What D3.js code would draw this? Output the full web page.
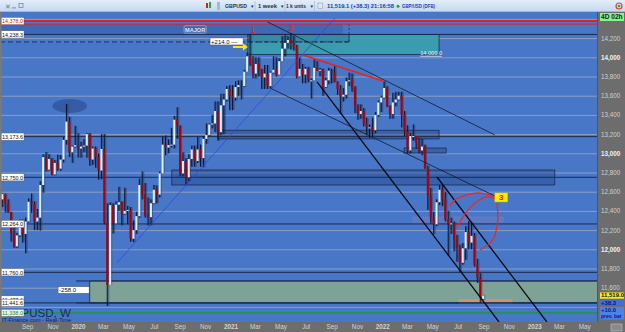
<!DOCTYPE html>
<html>
<head>
<meta charset="utf-8">
<script src="https://cdn.jsdelivr.net/npm/d3@7"></script>
<style>
  body { margin: 0; background: #fff; overflow: hidden; }
  svg { display: block; font-family: "Liberation Sans", Arial, sans-serif; }
</style>
</head>
<body>
<svg id="chart" width="625" height="332"></svg>
<script>
// weekly GBPUSD candles [open, high, low, close], in chart units (1.2345 -> 12,345)
const firstWeek = "2019-07-08"
const ohlc2019 = [
  [12520,12580,12440,12575],[12575,12580,12382,12475],[12475,12520,12380,12387],[12387,12390,12080,12160],
  [12160,12250,12015,12030],[12030,12170,12015,12145],[12145,12310,12130,12280],[12280,12310,12070,12160],
  [12160,12330,11959,12290],[12290,12530,12280,12495],[12495,12580,12380,12470],[12470,12500,12200,12290],
  [12290,12420,12200,12330],[12330,12710,12195,12670],[12670,12990,12590,12960],[12960,13013,12810,12830],
  [12830,12990,12820,12940],[12940,12950,12770,12780],[12780,12930,12770,12900],[12900,12985,12820,12840],
  [12840,12980,12820,12935],[12935,13170,12905,13140],[13140,13514,13090,13330],[13330,13380,12960,13010],
  [13010,13080,12900,13070],[13070,13285,13060,13085]
]
const ohlc2020 = [
  [13085,13210,12955,13050],[13050,13120,12955,13070],[13070,13150,13010,13080],[13080,13210,12955,13200],
  [13200,13210,12870,12935],[12935,13070,12880,13050],[13050,13070,12850,12960],[12960,13000,12725,12820],
  [12820,13200,12730,13045],[13045,13200,12260,12280],[12280,12480,11409,11630],[11630,12490,11630,12460],
  [12460,12480,12165,12270],[12270,12500,12270,12465],[12465,12650,12400,12490],[12490,12500,12250,12370],
  [12370,12640,12360,12400],[12400,12450,12260,12410],[12410,12440,12080,12110],[12110,12300,12075,12200],
  [12200,12390,12160,12345],[12345,12735,12330,12670],[12670,12810,12520,12570],[12570,12690,12330,12350],
  [12350,12540,12250,12335],[12335,12520,12250,12480],[12480,12670,12470,12620],[12620,12665,12480,12570],
  [12570,12810,12540,12790],[12790,13170,12790,13090],[13090,13185,12980,13060],[13060,13145,13000,13085],
  [13085,13265,13060,13090],[13090,13390,13050,13350],[13350,13480,13150,13280],[13280,13290,12760,12790],
  [12790,13010,12760,12920],[12920,12950,12675,12750],[12750,12990,12710,12940],[12940,13080,12860,13040],
  [13040,13080,12860,12920],[12920,13170,12900,13040],[13040,13090,12860,12950],[12950,13180,12855,13150],
  [13150,13310,13100,13190],[13190,13310,13170,13300],[13300,13400,13260,13310],[13310,13540,13220,13440],
  [13440,13540,13130,13220],[13220,13620,13190,13500],[13500,13620,13200,13560],[13560,13700,13540,13670]
]
const ohlc2021 = [
  [13670,13710,13450,13600],[13600,13710,13450,13580],[13580,13750,13550,13690],[13690,13760,13600,13710],
  [13710,13760,13560,13700],[13700,13870,13690,13850],[13850,14050,13850,14010],[14010,14241,13910,13930],
  [13930,14010,13780,13830],[13830,14000,13780,13930],[13930,14000,13800,13870],[13870,13880,13670,13790],
  [13790,13920,13670,13830],[13830,13920,13670,13700],[13700,13850,13680,13840],[13840,14010,13830,13870],
  [13870,14000,13800,13820],[13820,13990,13820,13960],[13960,14220,13960,14090],[14090,14230,14010,14150],
  [14150,14220,14090,14180],[14180,14250,14080,14150],[14150,14220,14070,14110],[14110,14130,13780,13800],
  [13800,14000,13790,13880],[13880,13930,13730,13820],[13820,13900,13730,13880],[13880,13900,13740,13760],
  [13760,13780,13570,13760],[13760,13980,13760,13890],[13890,13960,13860,13860],[13860,13890,13800,13870],
  [13870,13880,13600,13690],[13690,13790,13680,13760],[13760,13890,13720,13860],[13860,13880,13730,13840],
  [13840,13910,13740,13740],[13740,13750,13610,13670],[13670,13710,13410,13590],[13590,13680,13540,13610],
  [13610,13790,13570,13750],[13750,13840,13700,13760],[13760,13830,13640,13680],[13680,13700,13420,13500],
  [13500,13510,13350,13410],[13410,13510,13360,13440],[13440,13470,13280,13310],[13310,13370,13190,13270],
  [13270,13300,13160,13270],[13270,13370,13170,13240],[13240,13430,13210,13400],[13400,13550,13380,13530]
]
const ohlc2022 = [
  [13530,13600,13430,13580],[13580,13749,13570,13680],[13680,13700,13480,13490],[13490,13500,13360,13410],
  [13410,13630,13360,13530],[13530,13640,13490,13560],[13560,13640,13550,13600],[13600,13640,13270,13400],
  [13400,13440,13180,13230],[13230,13290,13000,13030],[13030,13210,13000,13180],[13180,13300,13130,13180],
  [13180,13180,13050,13110],[13110,13160,13000,13030],[13030,13150,12980,13070],[13070,13090,12840,12840],
  [12840,12870,12410,12560],[12560,12640,12270,12330],[12330,12390,12155,12260],[12260,12520,12240,12490],
  [12490,12670,12460,12620],[12620,12670,12450,12520],[12520,12600,12290,12310],[12310,12400,11934,12260],
  [12260,12330,12160,12270],[12270,12290,11980,12100],[12100,12150,11870,12020],[12020,12050,11760,11860],
  [11860,12065,11840,12010],[12010,12240,11890,12180],[12180,12293,12000,12070],[12070,12280,12000,12140],
  [12140,12170,11820,11840],[11840,11900,11650,11700],[11700,11750,11444,11500],[11481,11525,11470,11519]
]

// price axis and gridlines
const priceTicks = d3.range(11600, 14201, 200)
const gridLevels = d3.range(11400, 14401, 200)
// month labels shown under the chart
const monthTicks = d3.timeMonth.every(2).range(new Date(2019, 8, 1), new Date(2023, 5, 2))

// horizontal levels [price, label, kind]
const levels = [
  [14378.0, "14,378.0", "red"],
  [14345.0, null, "red2"],
  [14238.3, "14,238.3", "navy"],
  [13173.6, "13,173.6", "navy"],
  [12750.0, "12,750.0", "navy"],
  [12264.0, "12,264.0", "navy"],
  [11760.0, "11,760.0", "navy"],
  [11477.6, "11,477.6", "none"],
  [11441.6, "11,441.6", "navy"],
  [11338.0, "11,338.0", "green"]
]

// zones [from, to, top price, bottom price, kind]
const zones = [
  ["2019-07-01", "2021-10-03", 14345, 14238.3, "major"],
  ["2021-02-17", "2022-05-22", 14238.3, 14030, "teal"],
  ["2021-02-17", "2021-10-18", 14238.3, 14160, "dashbox"],
  ["2020-12-07", "2022-05-22", 13240, 13150, "dark"],
  ["2022-02-27", "2022-06-08", 13055, 13003, "dark"],
  ["2020-08-18", "2023-02-24", 12826, 12670, "dark"],
  ["2022-03-20", "2022-10-23", 12337, 12285, "pink"],
  ["2020-02-03", "2023-12-01", 11670, 11441.6, "sage"],
  ["2022-07-09", "2022-11-13", 11477, 11441.6, "orange"]
]

// trendlines [[date, price], [date, price], kind]
const trendlines = [
  [["2021-04-05", 14368], ["2022-10-03", 13191], "thin"],
  [["2021-04-11", 13680], ["2022-10-08", 12545], "thin"],
  [["2021-08-02", 13743], ["2022-10-13", 11243], "thick"],
  [["2022-05-17", 12753], ["2023-02-05", 11243], "thick"],
  [["2020-04-08", 11857], ["2021-09-14", 14409], "blue"],
  [["2021-06-29", 14024], ["2022-01-07", 13753], "red"]
]

// red arcs pointing to label 3
const arcs = [
  [["2022-06-17",12451],["2022-06-29",12514],["2022-07-28",12566],["2022-08-28",12586],["2022-10-03",12545]],
  [["2022-07-04",12222],["2022-07-18",12336],["2022-08-11",12461],["2022-09-14",12545],["2022-10-03",12524]],
  [["2022-10-08",12482],["2022-10-10",12305],["2022-09-28",12097],["2022-08-28",11993]]
]

const W = 625, H = 332
const plot = {left: 0, right: 597, top: 12, bottom: 322}
const parse = d3.timeParse("%Y-%m-%d")

const svg = d3.select("#chart")

const x = d3.scaleTime()
  .domain([new Date(2020, 0, 1), new Date(2023, 0, 1)])
  .range([76, 532.3])
const y = d3.scaleLinear()
  .domain([11600, 14000])
  .range([287.7, 57.3])

svg.append("defs").append("clipPath").attr("id", "clip")
  .append("rect")
  .attr("x", plot.left).attr("y", plot.top)
  .attr("width", plot.right - plot.left).attr("height", plot.bottom - plot.top)

// background
svg.append("rect").attr("width", W).attr("height", H).attr("fill", "#6d6d6d")
svg.append("rect")
  .attr("x", plot.left).attr("y", plot.top)
  .attr("width", plot.right - plot.left).attr("height", plot.bottom - plot.top)
  .attr("fill", "#4877c8")

const g = svg.append("g").attr("clip-path", "url(#clip)")

// gridlines
g.selectAll("line.grid")
  .data(gridLevels)
  .enter().append("line")
  .attr("class", "grid")
  .attr("x1", plot.left).attr("x2", plot.right)
  .attr("y1", d => y(d) + 0.5).attr("y2", d => y(d) + 0.5)
  .attr("stroke", "#9eaabd").attr("stroke-width", 0.8)

// zones
const zoneStyle = {
  major:   {fill: "#1c3a78", op: 0.22, stroke: "none", dash: null},
  teal:    {fill: "#3aa0ad", op: 0.9, stroke: "#1a2a50", dash: null},
  dashbox: {fill: "#1c3a78", op: 0.18, stroke: "#1a2a50", dash: "3,2"},
  dark:    {fill: "#1d3a75", op: 0.35, stroke: "#1a2a50", dash: null},
  pink:    {fill: "#ff9a9a", op: 0.1, stroke: "#d86a70", dash: "1,1"},
  sage:    {fill: "#7ea396", op: 1, stroke: "#1a2a50", dash: null},
  orange:  {fill: "#c89482", op: 1, stroke: "#d8a020", dash: null}
}
zones.forEach(([from, to, top, bot, kind]) => {
  const s = zoneStyle[kind]
  g.append("rect")
    .attr("x", x(parse(from))).attr("y", y(top))
    .attr("width", x(parse(to)) - x(parse(from)))
    .attr("height", y(bot) - y(top))
    .attr("fill", s.fill).attr("fill-opacity", s.op)
    .attr("stroke", s.stroke).attr("stroke-width", 0.8)
    .attr("stroke-dasharray", s.dash)
})
// dashed line of the major zone reaching left edge
g.append("line")
  .attr("x1", plot.left).attr("x2", x(parse("2021-10-18")))
  .attr("y1", y(14160)).attr("y2", y(14160))
  .attr("stroke", "#1a2a50").attr("stroke-width", 0.9).attr("stroke-dasharray", "5,3")
g.append("line")
  .attr("x1", x(parse("2021-10-18"))).attr("x2", x(parse("2021-10-18")))
  .attr("y1", y(14345)).attr("y2", y(14160))
  .attr("stroke", "#1a2a50").attr("stroke-width", 0.8).attr("stroke-dasharray", "2,2")
// sage zone lines start a bit before fill
;[11670, 11441.6].forEach(p => {
  g.append("line")
    .attr("x1", x(parse("2020-01-01"))).attr("x2", plot.right)
    .attr("y1", y(p)).attr("y2", y(p))
    .attr("stroke", "#1a2a50").attr("stroke-width", 1)
})

// horizontal levels
const levelStroke = {red: ["#e0202a", 2], red2: ["#e0202a", 1], navy: ["#1b2a4e", 1], green: ["#1a9a2a", 1.2], none: [null, 0]}
levels.forEach(([p, , kind]) => {
  if (!levelStroke[kind][0]) return
  g.append("line")
    .attr("x1", plot.left).attr("x2", plot.right)
    .attr("y1", y(p)).attr("y2", y(p))
    .attr("stroke", levelStroke[kind][0]).attr("stroke-width", levelStroke[kind][1])
})

// ellipse on the 2019 top
g.append("ellipse")
  .attr("cx", x(parse("2019-12-17"))).attr("cy", y(13492))
  .attr("rx", (x(parse("2020-01-28")) - x(parse("2019-11-06"))) / 2)
  .attr("ry", (y(13419) - y(13565)) / 2)
  .attr("fill", "#2a4d90").attr("fill-opacity", 0.65)

// candles
const candles = [].concat(ohlc2019, ohlc2020, ohlc2021, ohlc2022).map((d, i) => ({
  date: d3.timeDay.offset(parse(firstWeek), 7 * i), o: d[0], h: d[1], l: d[2], c: d[3]
}))
const step = x(d3.timeDay.offset(parse(firstWeek), 7)) - x(parse(firstWeek))
const bw = step * 0.7

const cg = g.append("g")
cg.selectAll("rect.shadow")
  .data(candles).enter().append("rect")
  .attr("class", "shadow")
  .attr("x", d => x(d.date) - bw / 2 + 0.8)
  .attr("y", d => y(d.h))
  .attr("width", bw + 0.3)
  .attr("height", d => Math.max(1, y(d.l) - y(d.h)))
  .attr("fill", "#1c3570").attr("fill-opacity", 0.45)
cg.selectAll("line.wick")
  .data(candles).enter().append("line")
  .attr("class", "wick")
  .attr("x1", d => x(d.date)).attr("x2", d => x(d.date))
  .attr("y1", d => y(d.h)).attr("y2", d => y(d.l))
  .attr("stroke", "#0d0d14").attr("stroke-width", 0.9)
cg.selectAll("rect.body")
  .data(candles).enter().append("rect")
  .attr("class", "body")
  .attr("x", d => x(d.date) - bw / 2)
  .attr("y", d => y(Math.max(d.o, d.c)))
  .attr("width", bw)
  .attr("height", d => Math.max(1, Math.abs(y(d.o) - y(d.c))))
  .attr("fill", d => d.c >= d.o ? "#dcf0f4" : "#b00000")

// trendlines
const lineStyle = {thin: ["#15192a", 0.8], thick: ["#0a0a10", 1.3], blue: ["#3246e6", 0.8], red: ["#ee2020", 1.6]}
trendlines.forEach(([a, b, kind]) => {
  g.append("line")
    .attr("x1", x(parse(a[0]))).attr("y1", y(a[1]))
    .attr("x2", x(parse(b[0]))).attr("y2", y(b[1]))
    .attr("stroke", lineStyle[kind][0]).attr("stroke-width", lineStyle[kind][1])
})

// arcs and label 3
const arcLine = d3.line()
  .x(d => x(parse(d[0]))).y(d => y(d[1]))
  .curve(d3.curveCatmullRom)
arcs.forEach(a => {
  g.append("path").attr("d", arcLine(a))
    .attr("fill", "none").attr("stroke", "#ee2626").attr("stroke-width", 1.3)
})
const box3 = {x0: x(parse("2022-10-03")), x1: x(parse("2022-11-03")), y0: y(12587), y1: y(12493)}
g.append("rect")
  .attr("x", box3.x0).attr("y", box3.y0)
  .attr("width", box3.x1 - box3.x0).attr("height", box3.y1 - box3.y0)
  .attr("fill", "#ffee00").attr("stroke", "#c8b400").attr("stroke-width", 0.5)
g.append("text")
  .attr("x", (box3.x0 + box3.x1) / 2).attr("y", box3.y1 - 1.5)
  .attr("text-anchor", "middle").attr("font-size", 8).attr("font-weight", "bold")
  .attr("fill", "#e01010").text("3")

// point labels
;[["1", "2021-03-01", 14284], ["2", "2021-05-31", 14305]].forEach(([t, d, p]) => {
  g.append("text").attr("x", x(parse(d))).attr("y", y(p) + 3)
    .attr("text-anchor", "middle").attr("font-size", 8.5)
    .attr("fill", "#e02020").text(t)
})

// MAJOR tag
const mx = x(parse("2020-10-13")), my = y(14290)
g.append("rect").attr("x", mx - 11).attr("y", my - 3.7).attr("width", 22).attr("height", 7.4)
  .attr("fill", "#3c64ad").attr("stroke", "#9cb8e6").attr("stroke-width", 0.7).attr("rx", 1)
g.append("text").attr("x", mx).attr("y", my + 2.2).attr("text-anchor", "middle")
  .attr("font-size", 5.6).attr("font-weight", "bold").attr("fill", "#dfe7f3").text("MAJOR")

// +214.0 box and yellow arrow
const px = x(parse("2020-11-18")), py = y(14165)
g.append("rect").attr("x", px).attr("y", py - 3.5).attr("width", 33).attr("height", 7)
  .attr("fill", "#fff").attr("stroke", "#444").attr("stroke-width", 0.4)
g.append("text").attr("x", px + 1).attr("y", py + 2.2).attr("font-size", 6).attr("fill", "#111").text("+214.0  —")
const ax0 = x(parse("2021-01-12")), ax1 = x(parse("2021-02-17")), ay = y(14107)
g.append("path")
  .attr("d", `M${ax0},${ay - 1} L${ax1 - 5},${ay - 1} L${ax1 - 5},${ay - 3.5} L${ax1},${ay} L${ax1 - 5},${ay + 3.5} L${ax1 - 5},${ay + 1} L${ax0},${ay + 1} Z`)
  .attr("fill", "#f4ea1a")

// 14,000.0 label in teal zone
g.append("text").attr("x", x(parse("2022-05-03"))).attr("y", y(14034) + 1)
  .attr("text-anchor", "middle").attr("font-size", 5.6).attr("fill", "#e8f0f8")
  .attr("text-decoration", "underline").text("14,000.0")

// -258.0 box
const nx = x(parse("2019-11-19")), ny = y(11576)
g.append("rect").attr("x", nx).attr("y", ny - 3.3).attr("width", 31).attr("height", 6.6)
  .attr("fill", "#fff").attr("stroke", "#444").attr("stroke-width", 0.4)
g.append("text").attr("x", nx + 1).attr("y", ny + 2.2).attr("font-size", 6).attr("fill", "#111").text("-258.0")

// footer text
g.append("text").attr("x", 5).attr("y", 316.5).attr("font-size", 11.5)
  .attr("fill", "#1b2b58").text("GBPUSD, W")
g.append("text").attr("x", 2).attr("y", 321.5).attr("font-size", 5.6)
  .attr("fill", "#0f1f50").text("IT-Finance.com - Real-Time")

// left level labels
const labelFill = {red: "#d01818", navy: "#111", green: "#188a18", none: "#111"}
levels.filter(d => d[1]).forEach(([p, t, kind]) => {
  const ly = y(p)
  svg.append("rect").attr("x", 1).attr("y", ly - 3.6).attr("width", 23).attr("height", 7.2)
    .attr("fill", kind === "green" ? "#eaf6ea" : "#fff").attr("stroke", "#555").attr("stroke-width", 0.4)
  svg.append("text").attr("x", 2).attr("y", ly + 2.3).attr("font-size", 6.2)
    .attr("fill", labelFill[kind]).attr("textLength", 21).attr("lengthAdjust", "spacingAndGlyphs").text(t)
})
svg.append("rect").attr("x", 0).attr("y", plot.top).attr("width", 1.5).attr("height", plot.bottom - plot.top)
  .attr("fill", "#7a7a7a")

// right axis
const yAxis = svg.append("g")
  .attr("transform", `translate(${plot.right + 3},0)`)
  .call(d3.axisRight(y).tickValues(priceTicks).tickSize(0).tickPadding(1).tickFormat(d3.format(",")))
yAxis.select(".domain").remove()
yAxis.selectAll("text")
  .attr("font-size", 6.3).attr("font-family", "Liberation Sans, Arial, sans-serif")
  .attr("fill", d => d % 1000 === 0 ? "#f2f2f2" : "#cfcfcf")
  .attr("font-weight", d => d % 1000 === 0 ? "bold" : "normal")
svg.append("line").attr("x1", plot.right + 0.5).attr("x2", plot.right + 0.5)
  .attr("y1", plot.top).attr("y2", plot.bottom).attr("stroke", "#555").attr("stroke-width", 1)

// bottom axis
const xAxis = svg.append("g")
  .attr("transform", `translate(2,${plot.bottom + 1})`)
  .call(d3.axisBottom(x)
    .tickValues(monthTicks)
    .tickSize(0).tickPadding(2)
    .tickFormat(d => d.getMonth() === 0 ? d3.timeFormat("%Y")(d) : d3.timeFormat("%b")(d)))
xAxis.select(".domain").remove()
xAxis.selectAll("text")
  .attr("font-size", 6.3).attr("font-family", "Liberation Sans, Arial, sans-serif")
  .attr("fill", "#d2d2d2")
  .attr("font-weight", d => d.getMonth() === 0 ? "bold" : "normal")

// right side tags
const lastC = candles[candles.length - 1]
const tag = (yy, h, fill, lines) => {
  svg.append("rect").attr("x", 600).attr("y", yy).attr("width", 24).attr("height", h).attr("fill", fill)
  lines.forEach(([t, dy, fs, col]) => svg.append("text").attr("x", 601).attr("y", yy + dy)
    .attr("font-size", fs).attr("font-weight", "bold").attr("fill", col).text(t))
}
tag(y(lastC.c) - 3, 6.2, "#ffe81a", [[d3.format(",.1f")(lastC.c), 5, 6, "#111"]])
tag(y(lastC.c) + 4, 6.4, "#3f6fd8", [["+38.3", 5.3, 6, "#0c1a78"]])
tag(y(lastC.c) + 11.5, 12.5, "#4f82e6", [["+10.0", 5.5, 6, "#0c1a78"], ["prev. bar", 11.3, 5, "#0c1a78"]])
tag(13, 8, "#8ef08a", [["4D 02h", 6.3, 6.6, "#0c2a0c"]])
svg.append("rect").attr("x", 611).attr("y", 324).attr("width", 11).attr("height", 7).attr("fill", "#8a8a8a")
  .attr("stroke", "#d0d0d0").attr("stroke-width", 0.5)

// toolbar
const grad = svg.select("defs").append("linearGradient").attr("id", "tb").attr("x1", 0).attr("x2", 0).attr("y1", 0).attr("y2", 1)
grad.append("stop").attr("offset", 0).attr("stop-color", "#e4eef9")
grad.append("stop").attr("offset", 1).attr("stop-color", "#c3d7ee")
svg.append("rect").attr("width", W).attr("height", plot.top).attr("fill", "url(#tb)")
svg.append("line").attr("x1", 0).attr("x2", W).attr("y1", plot.top - 0.5).attr("y2", plot.top - 0.5)
  .attr("stroke", "#8aa4c4").attr("stroke-width", 0.6)
const tb = svg.append("g").attr("font-size", 6).attr("font-weight", "bold").attr("fill", "#23324f")
tb.append("text").attr("x", 5).attr("y", 8.5).attr("font-size", 7).attr("font-weight", "normal").attr("fill", "#6a7a96").text("✕")
tb.append("rect").attr("x", 12).attr("y", 7.5).attr("width", 4).attr("height", 0.8).attr("fill", "#6a7a96")
tb.append("rect").attr("x", 19).attr("y", 3.5).attr("width", 4).attr("height", 4).attr("fill", "none").attr("stroke", "#6a7a96").attr("stroke-width", 0.7)
tb.append("rect").attr("x", 206).attr("y", 3).attr("width", 2).attr("height", 5).attr("fill", "#d02020")
tb.append("rect").attr("x", 209).attr("y", 2).attr("width", 2).attr("height", 6).attr("fill", "#20b020")
tb.append("rect").attr("x", 217).attr("y", 2).attr("width", 3).attr("height", 8).attr("fill", "#aab8cc")
;[[225, "GBPUSD", 22, 250], [258, "1 week", 19, 280], [286, "1 k units", 20, 309.5]].forEach(([tx, t, tl, ar]) => {
  tb.append("text").attr("x", tx).attr("y", 8.3).attr("textLength", tl).attr("lengthAdjust", "spacingAndGlyphs").text(t)
  tb.append("text").attr("x", ar).attr("y", 8).attr("font-size", 4.5).text("▼")
  tb.append("line").attr("x1", ar + 5).attr("x2", ar + 5).attr("y1", 1).attr("y2", 11).attr("stroke", "#9fb3cc").attr("stroke-width", 0.6)
})
tb.append("rect").attr("x", 318).attr("y", 3).attr("width", 4.5).attr("height", 5.5).attr("fill", "#dfe8f4").attr("stroke", "#8494aa").attr("stroke-width", 0.5)
tb.append("text").attr("x", 327).attr("y", 8.3).attr("fill", "#1e3ea8").attr("font-size", 5.6)
  .attr("textLength", 67).attr("lengthAdjust", "spacingAndGlyphs").text("11,519.1 (+38.3) 21:16:58")
tb.append("circle").attr("cx", 398).attr("cy", 6.3).attr("r", 1.5).attr("fill", "#20a040")
tb.append("text").attr("x", 402).attr("y", 8.3).attr("fill", "#1e3ea8").attr("font-size", 5.6)
  .attr("textLength", 33).attr("lengthAdjust", "spacingAndGlyphs").text("GBP/USD (DFB)")
tb.append("circle").attr("cx", 619).attr("cy", 6).attr("r", 3).attr("fill", "none").attr("stroke", "#e04020").attr("stroke-width", 1.2)
tb.append("circle").attr("cx", 619).attr("cy", 6).attr("r", 1.3).attr("fill", "#30a030")
</script>
</body>
</html>
